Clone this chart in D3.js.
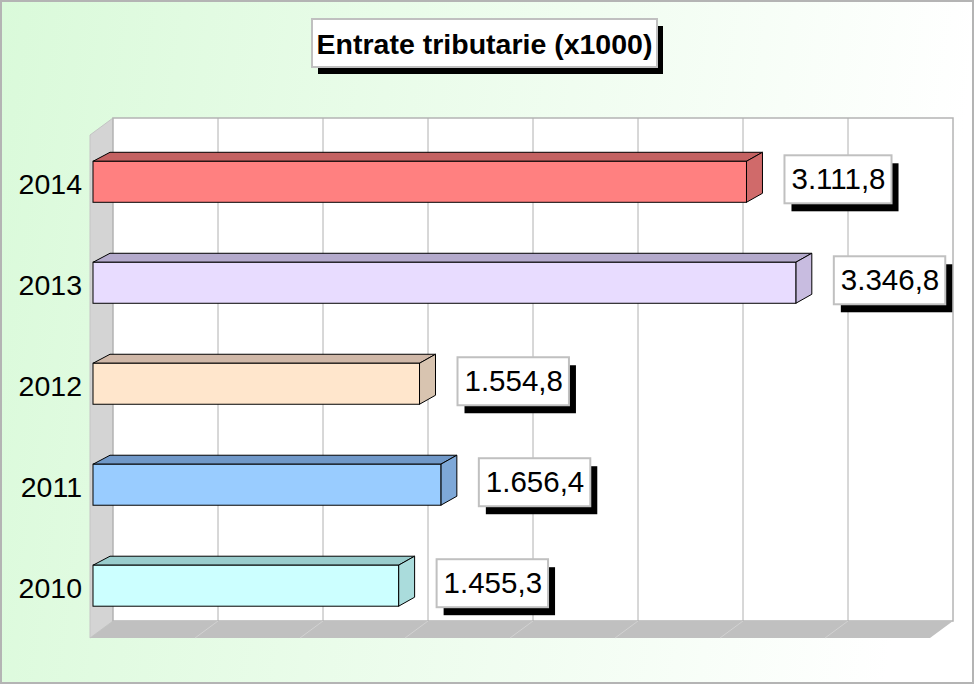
<!DOCTYPE html>
<html>
<head>
<meta charset="utf-8">
<script src="https://cdn.jsdelivr.net/npm/d3@7"></script>
<style>
  body { margin: 0; padding: 0; background: #fff; }
  svg { display: block; font-family: "Liberation Sans", Arial, sans-serif; }
</style>
</head>
<body>
<div id="chart"></div>
<script>
// data
var years = ["2014", "2013", "2012", "2011", "2010"];
var values = [3111.8, 3346.8, 1554.8, 1656.4, 1455.3];
var gridTicks = [0, 500, 1000, 1500, 2000, 2500, 3000, 3500, 4000];
var frontColors = ["#ff8080", "#e8dcff", "#ffe6cc", "#99ccff", "#ccffff"];
var topColors = ["#c46262", "#b4aacc", "#d0b8a8", "#7098c8", "#99cccc"];
var sideColors = ["#d06a6a", "#c8bce0", "#d8c4b0", "#7ea8d8", "#aadcdc"];
var title = "Entrate tributarie (x1000)";

var W = 975, H = 685;

var svg = d3.select("#chart")
    .append("svg")
    .attr("width", W)
    .attr("height", H);

// background gradient
var defs = svg.append("defs");
var grad = defs.append("linearGradient")
    .attr("id", "bg")
    .attr("x1", "0%").attr("y1", "0%")
    .attr("x2", "100%").attr("y2", "10%");
grad.append("stop").attr("offset", "0%").attr("stop-color", "#dafada");
grad.append("stop").attr("offset", "100%").attr("stop-color", "#ffffff");

svg.append("rect")
    .attr("x", 1).attr("y", 1)
    .attr("width", W - 3).attr("height", H - 3)
    .attr("fill", "url(#bg)")
    .attr("stroke", "#b4b4b4")
    .attr("stroke-width", 2);

// scales (front plane of the bars)
var x = d3.scaleLinear().domain([0, 4000]).range([93, 933]);
var y = d3.scaleBand().domain(years).range([131, 636.5])
    .paddingInner(0.594).paddingOuter(0.3);

// depth offsets
var wallDx = 20, floorDx = -3, wallTop = 118, wallBottom = 621, floorFront = 638;
var barDx = 16, barDy = -9;

// left wall
svg.append("polygon")
    .attr("points", [[x(0) + floorDx, 135], [x(0) + wallDx, wallTop],
                     [x(0) + wallDx, wallBottom], [x(0) + floorDx, floorFront]].join(" "))
    .attr("fill", "#d4d4d4")
    .attr("stroke", "#c4c4c4");

// back wall
svg.append("rect")
    .attr("x", x(0) + wallDx).attr("y", wallTop)
    .attr("width", x(4000) - x(0)).attr("height", wallBottom - wallTop)
    .attr("fill", "#ffffff")
    .attr("stroke", "#b4b4b4")
    .attr("stroke-width", 1.5);

// floor
svg.append("polygon")
    .attr("points", [[x(0) + wallDx, wallBottom], [x(4000) + wallDx, wallBottom],
                     [x(4000) + floorDx, floorFront], [x(0) + floorDx, floorFront]].join(" "))
    .attr("fill", "#c0c0c0");

// gridlines on back wall and floor
svg.selectAll(".grid")
    .data(gridTicks.slice(1, -1))
    .enter()
    .append("line")
    .attr("x1", function(d) { return x(d) + wallDx; })
    .attr("x2", function(d) { return x(d) + wallDx; })
    .attr("y1", wallTop)
    .attr("y2", wallBottom)
    .attr("stroke", "#b0b0b0")
    .attr("stroke-width", 1);

svg.selectAll(".floorgrid")
    .data(gridTicks.slice(1, -1))
    .enter()
    .append("line")
    .attr("x1", function(d) { return x(d) + wallDx; })
    .attr("x2", function(d) { return x(d) + floorDx; })
    .attr("y1", wallBottom)
    .attr("y2", floorFront)
    .attr("stroke", "#d2d2d2")
    .attr("stroke-width", 1);

// bars
var bars = svg.selectAll(".bar")
    .data(years)
    .enter()
    .append("g");

bars.append("polygon")
    .attr("points", function(d, i) {
        var y0 = y(d), x0 = x(0), x1 = x(values[i]);
        return [[x0, y0], [x0 + barDx + 1, y0 + barDy], [x1 + barDx, y0 + barDy], [x1, y0]].join(" ");
    })
    .attr("fill", function(d, i) { return topColors[i]; })
    .attr("stroke", "#000").attr("stroke-linejoin", "round");

bars.append("polygon")
    .attr("points", function(d, i) {
        var y0 = y(d), x1 = x(values[i]), h = y.bandwidth();
        return [[x1, y0], [x1 + barDx, y0 + barDy], [x1 + barDx, y0 + h + barDy], [x1, y0 + h]].join(" ");
    })
    .attr("fill", function(d, i) { return sideColors[i]; })
    .attr("stroke", "#000").attr("stroke-linejoin", "round");

bars.append("rect")
    .attr("x", x(0))
    .attr("y", function(d) { return y(d); })
    .attr("width", function(d, i) { return x(values[i]) - x(0); })
    .attr("height", y.bandwidth())
    .attr("fill", function(d, i) { return frontColors[i]; })
    .attr("stroke", "#000");

// year labels
svg.selectAll(".ylab")
    .data(years)
    .enter()
    .append("text")
    .attr("x", 82)
    .attr("y", function(d) { return y(d) + 33; })
    .attr("text-anchor", "end")
    .style("font-size", "28.5px")
    .style("fill", "#000")
    .text(function(d) { return d; });

// value labels
var fmt = d3.formatLocale({decimal: ",", thousands: ".", grouping: [3], currency: ["", ""]}).format(",.1f");

var labs = svg.selectAll(".vlab")
    .data(years)
    .enter()
    .append("g")
    .attr("transform", function(d, i) {
        return "translate(" + (x(values[i]) + 38) + "," + (y(d) - 6) + ")";
    });

labs.each(function(d, i) {
    var g = d3.select(this);
    var shadow = g.append("rect").attr("fill", "#000");
    var box = g.append("rect").attr("fill", "#fff")
        .attr("stroke", "#c0c0c0").attr("stroke-width", 2);
    var t = g.append("text")
        .attr("x", 7)
        .attr("y", 34)
        .style("font-size", "29.5px")
        .style("fill", "#000")
        .text(fmt(values[i]));
    var w = t.node().getComputedTextLength() + 13;
    box.attr("x", 0).attr("y", 0).attr("width", w).attr("height", 48);
    shadow.attr("x", 7).attr("y", 8).attr("width", w).attr("height", 48);
});

// title
var tg = svg.append("g");
tg.append("rect")
    .attr("x", 318).attr("y", 26).attr("width", 345).attr("height", 48)
    .attr("fill", "#000");
tg.append("rect")
    .attr("x", 312).attr("y", 19).attr("width", 345).attr("height", 48)
    .attr("fill", "#fff")
    .attr("stroke", "#c0c0c0").attr("stroke-width", 2);
tg.append("text")
    .attr("x", 484.5)
    .attr("y", 54)
    .attr("text-anchor", "middle")
    .style("font-size", "28.5px")
    .style("font-weight", "bold")
    .style("fill", "#000")
    .text(title);
</script>
</body>
</html>
